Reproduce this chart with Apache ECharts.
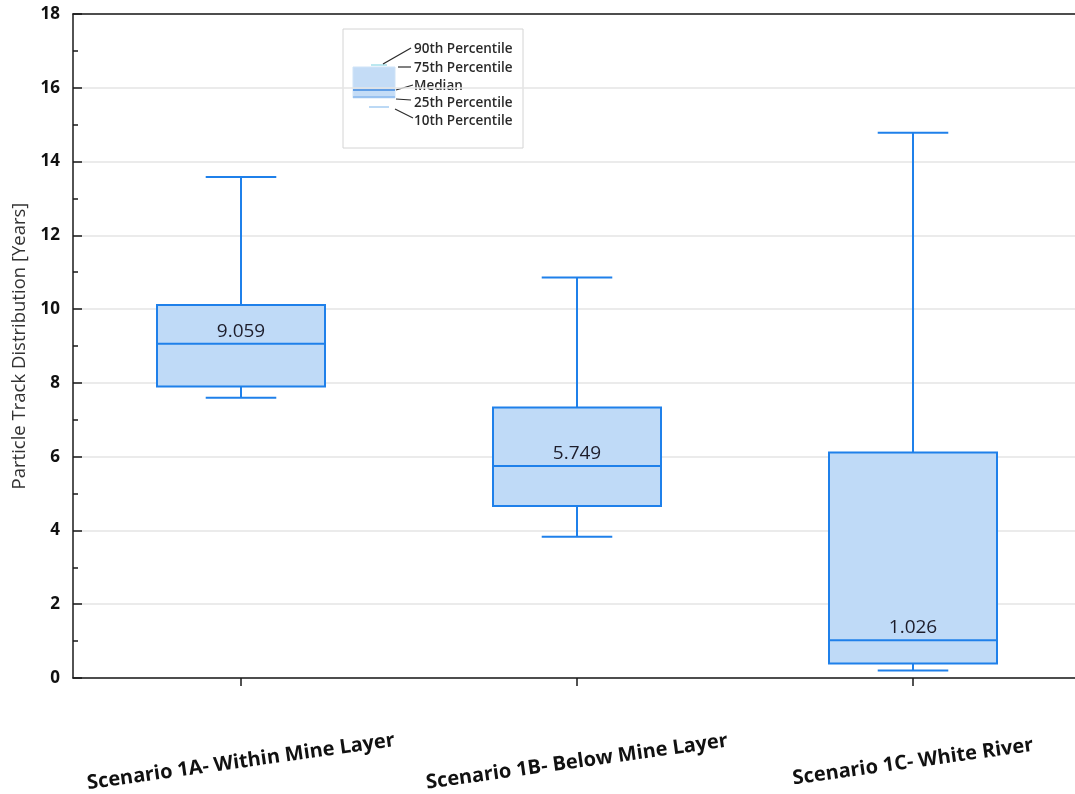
<!DOCTYPE html>
<html>
<head>
<meta charset="utf-8">
<script src="https://cdn.jsdelivr.net/npm/echarts@6/dist/echarts.min.js"></script>
<style>
  html, body { margin: 0; padding: 0; background: #ffffff; }
  #chart { width: 1075px; height: 794px; }
</style>
</head>
<body>
<div id="chart"></div>
<script>
// Particle track travel-time distributions per scenario (years)
var categories = [
  'Scenario 1A- Within Mine Layer',
  'Scenario 1B- Below Mine Layer',
  'Scenario 1C- White River'
];
var p10 = [7.60, 3.83, 0.20];
var q1 = [7.90, 4.66, 0.39];
var median = [9.059, 5.749, 1.026];
var q3 = [10.11, 7.33, 6.11];
var p90 = [13.58, 10.86, 14.78];

var yTicks = { min: 0, max: 18, interval: 2 };
var legendLabels = ['90th Percentile', '75th Percentile', 'Median', '25th Percentile', '10th Percentile'];

var BOX_FILL = '#bfdaf7';
var BOX_LINE = '#1f80ea';
var FONT = 'Open Sans';

var seriesData = categories.map(function (c, i) {
  return [i, p10[i], q1[i], median[i], q3[i], p90[i]];
});

function renderBox(params, api) {
  var idx = api.value(0);
  var pLow = api.coord([idx, api.value(1)]);
  var pQ1 = api.coord([idx, api.value(2)]);
  var pMed = api.coord([idx, api.value(3)]);
  var pQ3 = api.coord([idx, api.value(4)]);
  var pHigh = api.coord([idx, api.value(5)]);
  var band = api.size([1, 0])[0];
  var cx = pMed[0];
  var halfBox = band * 0.25;
  var halfCap = band * 0.105;
  var lineStyle = { stroke: BOX_LINE, lineWidth: 2, fill: null };
  var medText = String(median[params.dataIndex]);
  return {
    type: 'group',
    children: [
      { type: 'line', shape: { x1: cx, y1: pHigh[1], x2: cx, y2: pQ3[1] }, style: lineStyle },
      { type: 'line', shape: { x1: cx - halfCap, y1: pHigh[1], x2: cx + halfCap, y2: pHigh[1] }, style: lineStyle },
      { type: 'line', shape: { x1: cx, y1: pQ1[1], x2: cx, y2: pLow[1] }, style: lineStyle },
      { type: 'line', shape: { x1: cx - halfCap, y1: pLow[1], x2: cx + halfCap, y2: pLow[1] }, style: lineStyle },
      {
        type: 'rect',
        shape: { x: cx - halfBox, y: pQ3[1], width: halfBox * 2, height: pQ1[1] - pQ3[1] },
        style: { fill: BOX_FILL, stroke: BOX_LINE, lineWidth: 2 }
      },
      { type: 'line', shape: { x1: cx - halfBox, y1: pMed[1], x2: cx + halfBox, y2: pMed[1] }, style: lineStyle },
      {
        type: 'text',
        style: {
          text: medText, x: cx, y: pMed[1] - 3,
          align: 'center', verticalAlign: 'bottom',
          font: '19px "' + FONT + '"', fill: '#1d1d2b'
        }
      }
    ]
  };
}

// Legend key drawn as a miniature box with leader lines
var lx = 343, ly = 29;
var legendTextY = [49, 68, 86, 103, 121];
var legendGraphics = [
  { type: 'rect', shape: { x: lx, y: ly, width: 180, height: 119 }, style: { fill: '#ffffff', stroke: '#d4d4d4', lineWidth: 1 } },
  { type: 'rect', shape: { x: 353, y: 67, width: 42, height: 31 }, style: { fill: '#c4dcf6', stroke: '#cfe3f7', lineWidth: 1 } },
  { type: 'line', shape: { x1: 353, y1: 90, x2: 395, y2: 90 }, style: { stroke: '#3f8ae0', lineWidth: 1.5 } },
  { type: 'line', shape: { x1: 353, y1: 97, x2: 395, y2: 97 }, style: { stroke: '#6aa6ea', lineWidth: 1.2 } },
  { type: 'line', shape: { x1: 371, y1: 65, x2: 387, y2: 65 }, style: { stroke: '#8fd8e6', lineWidth: 1.2 } },
  { type: 'line', shape: { x1: 369, y1: 107, x2: 389, y2: 107 }, style: { stroke: '#8fc0ee', lineWidth: 1.2 } },
  { type: 'line', shape: { x1: 383, y1: 64, x2: 411, y2: 48 }, style: { stroke: '#2a2a2a', lineWidth: 1.2 } },
  { type: 'line', shape: { x1: 398, y1: 67, x2: 411, y2: 67 }, style: { stroke: '#2a2a2a', lineWidth: 1.2 } },
  { type: 'line', shape: { x1: 396, y1: 90, x2: 413, y2: 85 }, style: { stroke: '#2a2a2a', lineWidth: 1.2 } },
  { type: 'line', shape: { x1: 396, y1: 99, x2: 411, y2: 100 }, style: { stroke: '#2a2a2a', lineWidth: 1.2 } },
  { type: 'line', shape: { x1: 395, y1: 109, x2: 413, y2: 118 }, style: { stroke: '#2a2a2a', lineWidth: 1.2 } }
];
legendLabels.forEach(function (t, i) {
  legendGraphics.push({
    type: 'text',
    style: {
      text: t, x: 414, y: legendTextY[i], verticalAlign: 'middle',
      font: '600 13.5px "' + FONT + '"', fill: '#2a2a2a'
    }
  });
});

var chart = echarts.init(document.getElementById('chart'), null, { renderer: 'canvas' });
chart.setOption({
  backgroundColor: '#ffffff',
  animation: false,
  grid: { left: 73, top: 14, width: 1008, height: 664, containLabel: false, outerBoundsMode: 'none' },
  graphic: legendGraphics,
  xAxis: [{
    type: 'category',
    data: categories,
    boundaryGap: true,
    axisLine: { show: true, lineStyle: { color: '#1a1a1a', width: 1.5 } },
    axisTick: { show: true, alignWithLabel: true, length: 8, lineStyle: { color: '#1a1a1a', width: 1.5 } },
    axisLabel: {
      rotate: 8, align: 'center', verticalAlign: 'middle', margin: 84,
      fontFamily: FONT, fontSize: 20, fontWeight: 'bold', color: '#111111'
    },
    splitLine: { show: false }
  }, {
    type: 'category',
    position: 'top',
    data: categories,
    axisLine: { show: true, onZero: false, lineStyle: { color: '#1a1a1a', width: 1.5 } },
    axisTick: { show: false },
    axisLabel: { show: false },
    splitLine: { show: false }
  }],
  yAxis: {
    type: 'value',
    min: yTicks.min, max: yTicks.max, interval: yTicks.interval,
    name: 'Particle Track Distribution [Years]',
    nameLocation: 'middle',
    nameGap: 44,
    nameTextStyle: { fontFamily: FONT, fontSize: 18.5, color: '#333333' },
    axisLine: { show: true, lineStyle: { color: '#1a1a1a', width: 1.5 } },
    axisTick: { show: true, inside: true, length: 9, lineStyle: { color: '#1a1a1a', width: 1.5 } },
    minorTick: { show: true, splitNumber: 2, length: 5, lineStyle: { color: '#1a1a1a', width: 1.5 } },
    axisLabel: { margin: 13, fontFamily: FONT, fontSize: 17, fontWeight: 'bold', color: '#111111' },
    splitLine: { show: true, lineStyle: { color: '#e4e4e4', width: 1.5 } }
  },
  series: [{
    type: 'custom',
    xAxisIndex: 0,
    renderItem: renderBox,
    encode: { x: 0, y: [1, 2, 3, 4, 5] },
    data: seriesData,
    clip: false
  }]
});
</script>
</body>
</html>
